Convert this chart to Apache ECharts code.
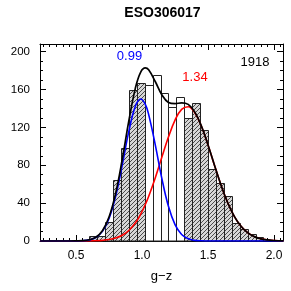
<!DOCTYPE html>
<html><head><meta charset="utf-8">
<script src="https://cdn.jsdelivr.net/npm/echarts@6/dist/echarts.min.js"></script>
<style>html,body{margin:0;padding:0;background:#fff}#c{width:291px;height:291px}</style>
</head><body><div id="c"></div>
<script>
// Histogram bins (g-z), left edges + last right edge
const binEdges = [0.60,0.66,0.72,0.78,0.84,0.90,0.96,1.02,1.08,1.14,1.20,1.26,1.32,1.38,1.44,1.50,1.56,1.62,1.68,1.74,1.80,1.86,1.92];
const counts   = [5,5,20,64,98,159,167,165,175,156,142,152,130,146,117,76,61,47,19,13,7,4];
const hatched  = [1,1,1,1,1,1,1,0,0,0,0,0,1,1,1,1,1,1,1,1,1,1];

// Fitted curves
const curveX   = [0.23,0.30,0.35,0.40,0.45,0.50,0.55,0.60,0.65,0.70,0.75,0.80,0.85,0.90,0.95,0.99,1.025,1.05,1.10,1.15,1.20,1.25,1.30,1.35,1.40,1.45,1.50,1.55,1.60,1.65,1.70,1.75,1.80,1.85,1.90,1.95,2.00,2.07];
const blueFit  = [0,0,0,0,0,0.1,0.3,1.2,3.7,10.2,23.8,47.2,80.1,115.7,142.5,150,144.2,133.7,101.8,66.1,36.6,17.3,6.9,2.4,0.7,0.2,0,0,0,0,0,0,0,0,0,0,0,0];
const redFit   = [0,0,0,0,0,0,0,0.1,0.3,0.7,1.5,3.1,6.0,11.1,19.2,28.4,38.5,47.0,66.6,88.3,109.7,127.7,139.0,141.8,135.4,121.1,101.4,79.5,58.4,40.1,25.8,15.6,8.8,4.6,2.3,1.1,0.5,0.1];
const totalFit = [0,0,0,0,0,0.1,0.3,1.3,4.0,10.9,25.3,50.3,86.1,126.8,161.7,178.4,182.7,180.7,168.4,154.4,146.3,145.0,145.9,144.2,136.1,121.3,101.4,79.5,58.4,40.1,25.8,15.6,8.8,4.6,2.3,1.1,0.5,0.1];

const titleText = 'ESO306017';
const blueLabel = '0.99';
const redLabel = '1.34';
const nLabel = '1918';
const xName = 'g\u2212z';
const yName = 'N';

const FONT = '"Liberation Sans", Arial, sans-serif';

// hatch pattern
const pc = document.createElement('canvas');
pc.width = 4; pc.height = 4;
const g = pc.getContext('2d');
g.fillStyle = '#d6d6d6'; g.fillRect(0,0,4,4);
g.fillStyle = '#4a4a4a';
for (let i = 0; i < 4; i++) g.fillRect(i, 3 - i, 1, 1);
const hatch = { image: pc, repeat: 'repeat' };

const binData = counts.map((c, i) => [binEdges[i], binEdges[i+1], c, hatched[i]]);
const pairs = arr => curveX.map((x, i) => [x, arr[i]]);

const chart = echarts.init(document.getElementById('c'), null, {renderer: 'canvas'});
const xCommon = {
  type: 'value', min: 0.227, max: 2.068, splitNumber: 4,
  axisLine: {show: true, onZero: false, lineStyle: {color: '#000', width: 1}},
  axisTick: {show: true, inside: true, length: 6, lineStyle: {color: '#000'}},
  minorTick: {show: true, splitNumber: 10, length: 3, lineStyle: {color: '#000'}},
  splitLine: {show: false}
};
const yCommon = {
  type: 'value', min: 0, max: 208, interval: 40,
  axisLine: {show: true, onZero: false, lineStyle: {color: '#000', width: 1}},
  axisTick: {show: true, inside: true, length: 6, lineStyle: {color: '#000'}},
  minorTick: {show: true, splitNumber: 4, length: 3, lineStyle: {color: '#000'}},
  splitLine: {show: false}
};
chart.setOption({
  animation: false,
  backgroundColor: '#fff',
  textStyle: {fontFamily: FONT},
  grid: {left: 40, right: 8, top: 44, bottom: 50, show: false, containLabel: false, outerBoundsMode: 'none'},
  xAxis: [
    Object.assign({}, xCommon, {position: 'bottom',
      axisLabel: {show: true, color: '#000', fontSize: 12, fontFamily: FONT, margin: 9,
        showMinLabel: false, showMaxLabel: false, formatter: v => v.toFixed(1)},
      name: xName, nameLocation: 'middle', nameGap: 29,
      nameTextStyle: {color: '#000', fontSize: 13, fontFamily: FONT}}),
    Object.assign({}, xCommon, {position: 'top', axisLabel: {show: false}})
  ],
  yAxis: [
    Object.assign({}, yCommon, {position: 'left',
      axisLabel: {show: true, color: '#000', fontSize: 11.5, fontFamily: FONT, margin: 10},
      name: yName, nameLocation: 'middle', nameGap: 28,
      nameTextStyle: {color: '#000', fontSize: 13, fontFamily: FONT}}),
    Object.assign({}, yCommon, {position: 'right', axisLabel: {show: false}})
  ],
  series: [
    {
      type: 'custom', xAxisIndex: 0, yAxisIndex: 0, data: binData,
      encode: {x: [0, 1], y: 2},
      renderItem: (params, api) => {
        const p0 = api.coord([api.value(0), api.value(2)]);
        const p1 = api.coord([api.value(1), 0]);
        const x0 = Math.round(p0[0]) + 0.5, x1 = Math.round(p1[0]) + 0.5;
        const y0 = Math.round(p0[1]) + 0.5, y1 = p1[1];
        return {type: 'rect', shape: {x: x0, y: y0, width: x1 - x0, height: y1 - y0},
          style: {fill: api.value(3) ? hatch : '#fff', stroke: '#222', lineWidth: 1}};
      },
      z: 1
    },
    {type: 'line', data: pairs(redFit), showSymbol: false, smooth: 0.4, z: 3,
      lineStyle: {color: '#ff0000', width: 1.6}},
    {type: 'line', data: pairs(blueFit), showSymbol: false, smooth: 0.4, z: 3,
      lineStyle: {color: '#0000ff', width: 1.6}},
    {type: 'line', data: pairs(totalFit), showSymbol: false, smooth: 0.4, z: 4,
      lineStyle: {color: '#000000', width: 1.7}}
  ],
  graphic: [
    {type: 'text', x: 162.5, y: 13, style: {text: titleText, fill: '#000', align: 'center', verticalAlign: 'middle', font: 'bold 14px ' + FONT}},
    {type: 'text', x: 129.5, y: 56, style: {text: blueLabel, fill: '#0000ff', align: 'center', verticalAlign: 'middle', font: '13px ' + FONT}},
    {type: 'text', x: 195, y: 77, style: {text: redLabel, fill: '#ff0000', align: 'center', verticalAlign: 'middle', font: '13px ' + FONT}},
    {type: 'text', x: 255, y: 62, style: {text: nLabel, fill: '#000', align: 'center', verticalAlign: 'middle', font: '13px ' + FONT}}
  ]
});
</script></body></html>
